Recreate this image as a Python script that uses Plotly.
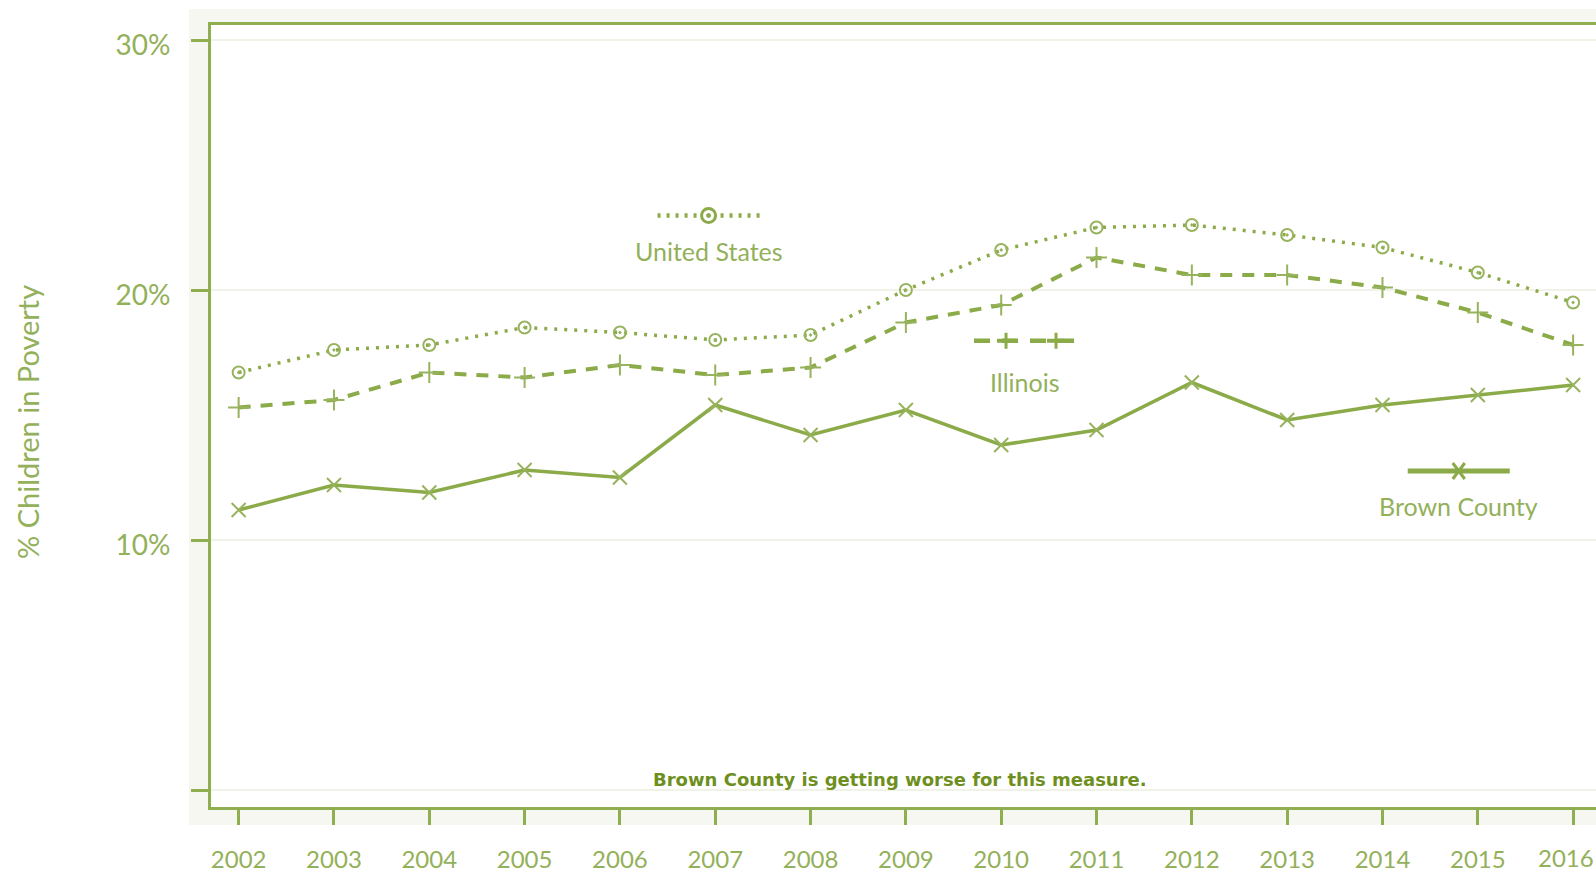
import plotly.graph_objects as go

years = list(range(2002, 2017))
us_values = [16.7, 17.6, 17.8, 18.5, 18.3, 18.0, 18.2, 20.0, 21.6, 22.5, 22.6, 22.2, 21.7, 20.7, 19.5]
illinois_values = [15.3, 15.6, 16.7, 16.5, 17.0, 16.6, 16.9, 18.7, 19.4, 21.3, 20.6, 20.6, 20.1, 19.1, 17.8]
brown_values = [11.2, 12.2, 11.9, 12.8, 12.5, 15.4, 14.2, 15.2, 13.8, 14.4, 16.3, 14.8, 15.4, 15.8, 16.2]
y_tickvals = [0, 10, 20, 30]
y_ticktext = ["", "10%", "20%", "30%"]
series_names = ["United States", "Illinois", "Brown County"]
note_text = "Brown County is getting worse for this measure."
y_title = "% Children in Poverty"

LINE = "#8baa48"
MARK = "#97b35e"
TEXT = "#93b05a"
FRAME = "#8fae4f"
NOTE = "#6e8f1e"
FONT = "Lato, Open Sans, sans-serif"

# the last year label sits at the right page edge; it is drawn right-aligned so it stays inside the page
x_ticktext = [str(y) for y in years[:-1]] + [""]

fig = go.Figure()
fig.add_trace(go.Scatter(x=years, y=us_values, name=series_names[0], mode="lines+markers",
                         line=dict(color=LINE, width=3.5, dash="3px,7px"),
                         marker=dict(symbol="circle-open-dot", size=12, color=MARK, line=dict(width=2, color=MARK))))
fig.add_trace(go.Scatter(x=years, y=illinois_values, name=series_names[1], mode="lines+markers",
                         line=dict(color=LINE, width=4, dash="12px,10px"),
                         marker=dict(symbol="cross-thin-open", size=15, color=MARK, line=dict(width=2, color=MARK))))
fig.add_trace(go.Scatter(x=years, y=brown_values, name=series_names[2], mode="lines+markers",
                         line=dict(color=LINE, width=3.5),
                         marker=dict(symbol="x-thin-open", size=14, color=MARK, line=dict(width=2, color=MARK))))

shapes = []
# light gray backdrop around plot frame, white plot area on top of it
shapes.append(dict(type="rect", xref="paper", yref="paper", x0=-0.0159, x1=1.0, y0=-0.023, y1=1.0205,
                   fillcolor="#f6f7f1", line=dict(width=0), layer="below"))
shapes.append(dict(type="rect", xref="paper", yref="paper", x0=0, x1=1.0, y0=0, y1=1,
                   fillcolor="white", line=dict(width=0), layer="below"))

def key_line(xa, ya, dash, width):
    return dict(type="line", xref="x", yref="y", xsizemode="pixel", ysizemode="pixel",
                xanchor=xa, yanchor=ya, x0=-51, x1=51, y0=0, y1=0,
                line=dict(color=LINE, width=width, dash=dash))

# United States key
us_kx, us_ky = 2006.93, 22.98
shapes.append(key_line(us_kx, us_ky, "3px,6px", 4.5))
shapes.append(dict(type="circle", xref="x", yref="y", xsizemode="pixel", ysizemode="pixel",
                   xanchor=us_kx, yanchor=us_ky, x0=-7, x1=7, y0=-7, y1=7,
                   fillcolor="white", line=dict(color=LINE, width=3)))
shapes.append(dict(type="circle", xref="x", yref="y", xsizemode="pixel", ysizemode="pixel",
                   xanchor=us_kx, yanchor=us_ky, x0=-2, x1=2, y0=-2, y1=2,
                   fillcolor=LINE, line=dict(color=LINE, width=1)))
# Illinois key
il_kx, il_ky = 2010.25, 17.97
shapes.append(key_line(il_kx, il_ky, "16px,12px", 4.5))
for off in (-19, 31):
    shapes.append(dict(type="line", xref="x", yref="y", xsizemode="pixel", ysizemode="pixel",
                       xanchor=il_kx, yanchor=il_ky, x0=off, x1=off, y0=-8, y1=8,
                       line=dict(color=LINE, width=3)))
    shapes.append(dict(type="line", xref="x", yref="y", xsizemode="pixel", ysizemode="pixel",
                       xanchor=il_kx, yanchor=il_ky, x0=off - 9, x1=off + 9, y0=0, y1=0,
                       line=dict(color=LINE, width=4)))
# Brown County key
bc_kx, bc_ky = 2014.80, 12.76
shapes.append(key_line(bc_kx, bc_ky, "solid", 5))
shapes.append(dict(type="line", xref="x", yref="y", xsizemode="pixel", ysizemode="pixel",
                   xanchor=bc_kx, yanchor=bc_ky, x0=-6, x1=6, y0=-8, y1=8, line=dict(color=LINE, width=3)))
shapes.append(dict(type="line", xref="x", yref="y", xsizemode="pixel", ysizemode="pixel",
                   xanchor=bc_kx, yanchor=bc_ky, x0=-6, x1=6, y0=8, y1=-8, line=dict(color=LINE, width=3)))

annotations = [
    dict(x=us_kx, y=21.56, xref="x", yref="y", text=series_names[0], showarrow=False,
         font=dict(family=FONT, size=25, color=TEXT)),
    dict(x=il_kx, y=16.33, xref="x", yref="y", text=series_names[1], showarrow=False,
         font=dict(family=FONT, size=25, color=TEXT)),
    dict(x=bc_kx, y=11.36, xref="x", yref="y", text=series_names[2], showarrow=False,
         font=dict(family=FONT, size=25, color=TEXT)),
    dict(x=0.4975, y=0.0358, xref="paper", yref="paper", text="<b>" + note_text + "</b>", showarrow=False,
         xanchor="center", yanchor="middle",
         font=dict(family="DejaVu Sans, Verdana, sans-serif", size=18, color=NOTE)),
    dict(x=-0.1329, y=0.4923, xref="paper", yref="paper", text=y_title, textangle=-90, showarrow=False,
         xanchor="center", yanchor="middle",
         font=dict(family=FONT, size=29, color=TEXT)),
    dict(x=1.0, y=-0.0645, xref="paper", yref="paper", text=str(years[-1]), showarrow=False,
         xanchor="right", yanchor="middle",
         font=dict(family=FONT, size=24, color=TEXT)),
]

fig.update_layout(
    width=1596, height=875,
    margin=dict(l=211, r=0, t=25, b=68),
    paper_bgcolor="white", plot_bgcolor="white",
    showlegend=False,
    shapes=shapes, annotations=annotations,
    font=dict(family=FONT, color=TEXT),
)
fig.update_xaxes(range=[2001.71, 2016.24], tickvals=years, ticktext=x_ticktext,
                 showgrid=False, zeroline=False, showline=True, linecolor=FRAME, linewidth=3,
                 mirror=True, ticks="outside", ticklen=15, tickwidth=3, tickcolor=FRAME,
                 ticklabelstandoff=14,
                 tickfont=dict(family=FONT, size=24, color=TEXT))
fig.update_yaxes(range=[-0.68, 30.6], tickvals=y_tickvals, ticktext=y_ticktext,
                 showgrid=True, gridcolor="#f1f3e9", gridwidth=2, zeroline=False,
                 showline=True, linecolor=FRAME, linewidth=3, mirror=False,
                 ticks="outside", ticklen=17, tickwidth=3, tickcolor=FRAME,
                 ticklabelstandoff=15, ticklabelshift=5,
                 tickfont=dict(family=FONT, size=28, color=TEXT))

post = (
    "document.documentElement.style.overflow='hidden';"
    "document.documentElement.style.margin='0';"
    "document.body.style.margin='0';"
    "document.body.style.overflow='hidden';"
    "var d=document.getElementById('{plot_id}');"
    "d.style.overflow='hidden';"
    "var c=d.querySelector('.svg-container'); if(c){c.style.display='block';}"
)
fig.write_html("out.html", config={"displayModeBar": False}, post_script=post)
